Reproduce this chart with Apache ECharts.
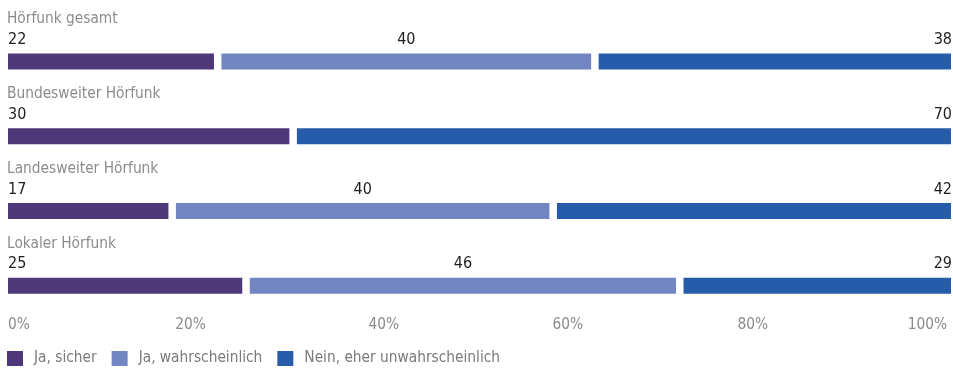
<!DOCTYPE html>
<html>
<head>
<meta charset="utf-8">
<script src="https://cdn.jsdelivr.net/npm/echarts@6/dist/echarts.min.js"></script>
<style>html,body{margin:0;padding:0;background:#fff}#c{width:953px;height:369px}</style>
</head>
<body>
<div id="c"></div>
<script>
const categories = ['Hörfunk gesamt', 'Bundesweiter Hörfunk', 'Landesweiter Hörfunk', 'Lokaler Hörfunk'];
const seriesNames = ['Ja, sicher', 'Ja, wahrscheinlich', 'Nein, eher unwahrscheinlich'];
const jaSicher = [22, 30, 17, 25];
const jaWahrscheinlich = [40, 0, 40, 46];
const neinUnwahrscheinlich = [38, 70, 42, 29];
const tickValues = [0, 20, 40, 60, 80, 100];

const FONT = "'Liberation Sans Narrow', 'DejaVu Sans Condensed', Roboto, sans-serif";
const TXT = 15.3;
const colors = ['#4f3879', '#7386c4', '#265ca9'];
const allSeries = [jaSicher, jaWahrscheinlich, neinUnwahrscheinlich];
const labelAligns = ['left', 'center', 'right'];

// each row fills the full width (shares of the row total); labels show the rounded values
const rowTotals = categories.map((_, i) => allSeries.reduce((s, arr) => s + arr[i], 0));
function buildData(k) {
  return categories.map((_, i) => {
    let start = 0;
    for (let j = 0; j < k; j++) start += allSeries[j][i] / rowTotals[i] * 100;
    const end = start + allSeries[k][i] / rowTotals[i] * 100;
    return [i, start, end, allSeries[k][i]];
  });
}

const BAR_H = 16;
const GAP_L = 6;   // white gap before a segment that follows another one
const GAP_R = 1.5; // white gap after a segment that is followed by another one

function makeRender(k) {
  return function (params, api) {
    const row = api.value(0), s = api.value(1), e = api.value(2), raw = api.value(3);
    if (!(raw > 0)) return null;
    const a = api.coord([s, row]);
    const b = api.coord([e, row]);
    const x0 = a[0] + (s > 0.001 ? GAP_L : 0);
    const x1 = b[0] - (e < 99.999 ? GAP_R : 0);
    const yc = a[1];
    const align = labelAligns[k];
    const tx = align === 'left' ? x0 : (align === 'right' ? x1 + 1 : (x0 + x1) / 2);
    return {
      type: 'group',
      children: [
        {type: 'rect', shape: {x: x0, y: yc - BAR_H / 2, width: x1 - x0, height: BAR_H},
         style: {fill: colors[k]}},
        {type: 'text', style: {text: String(raw), x: tx, y: yc - 21.5, align: align,
         verticalAlign: 'middle', fill: '#1e1e1e', fontSize: 16, fontFamily: FONT}}
      ]
    };
  };
}

const chart = echarts.init(document.getElementById('c'), null, {renderer: 'canvas'});

const labelShift = {0: 'l', 20: 'a', 40: 'b', 60: 'c', 80: 'd', 100: 'r'};
const axisTxt = {color: '#8a8a8a', fontSize: TXT, fontFamily: FONT};

chart.setOption({
  animation: false,
  textStyle: {fontFamily: FONT},
  grid: {left: 8, right: 2, top: 24, height: 299, containLabel: false},
  legend: {
    data: seriesNames,
    left: 7,
    top: 351,
    padding: 0,
    icon: 'rect',
    itemWidth: 16,
    itemHeight: 15,
    itemGap: 15,
    itemStyle: {borderWidth: 0},
    textStyle: {color: '#7a7a7a', fontSize: TXT, fontFamily: FONT, padding: [0, 0, 0, 6]},
    selectedMode: false
  },
  xAxis: {
    type: 'value',
    min: tickValues[0],
    max: tickValues[tickValues.length - 1],
    interval: 20,
    axisLine: {show: false},
    axisTick: {show: false},
    splitLine: {show: false},
    axisLabel: {
      margin: 2,
      verticalAlign: 'middle',
      alignMinLabel: 'left',
      alignMaxLabel: 'right',
      color: '#8a8a8a',
      fontSize: TXT,
      fontFamily: FONT,
      formatter: v => '{' + labelShift[v] + '|' + v + '%}',
      rich: {
        l: Object.assign({padding: [0, 0, 0, 0]}, axisTxt),
        a: Object.assign({padding: [0, 12, 0, 0]}, axisTxt),
        b: Object.assign({padding: [0, 3, 0, 0]}, axisTxt),
        c: Object.assign({padding: [0, 12, 0, 0]}, axisTxt),
        d: Object.assign({padding: [0, 19, 0, 0]}, axisTxt),
        r: Object.assign({padding: [0, 4, 0, 0]}, axisTxt)
      }
    }
  },
  yAxis: {
    type: 'category',
    inverse: true,
    data: categories,
    axisLine: {show: false},
    axisTick: {show: false},
    axisLabel: {
      inside: true,
      margin: -1,
      align: 'left',
      verticalAlign: 'bottom',
      lineHeight: 16,
      padding: [0, 0, 34, 0],
      color: '#8c8c8c',
      fontSize: TXT,
      fontFamily: FONT
    }
  },
  series: seriesNames.map((name, k) => ({
    name: name,
    type: 'custom',
    coordinateSystem: 'cartesian2d',
    itemStyle: {color: colors[k]},
    encode: {x: [1, 2], y: 0},
    data: buildData(k),
    renderItem: makeRender(k),
    silent: true,
    animation: false
  }))
});
</script>
</body>
</html>
